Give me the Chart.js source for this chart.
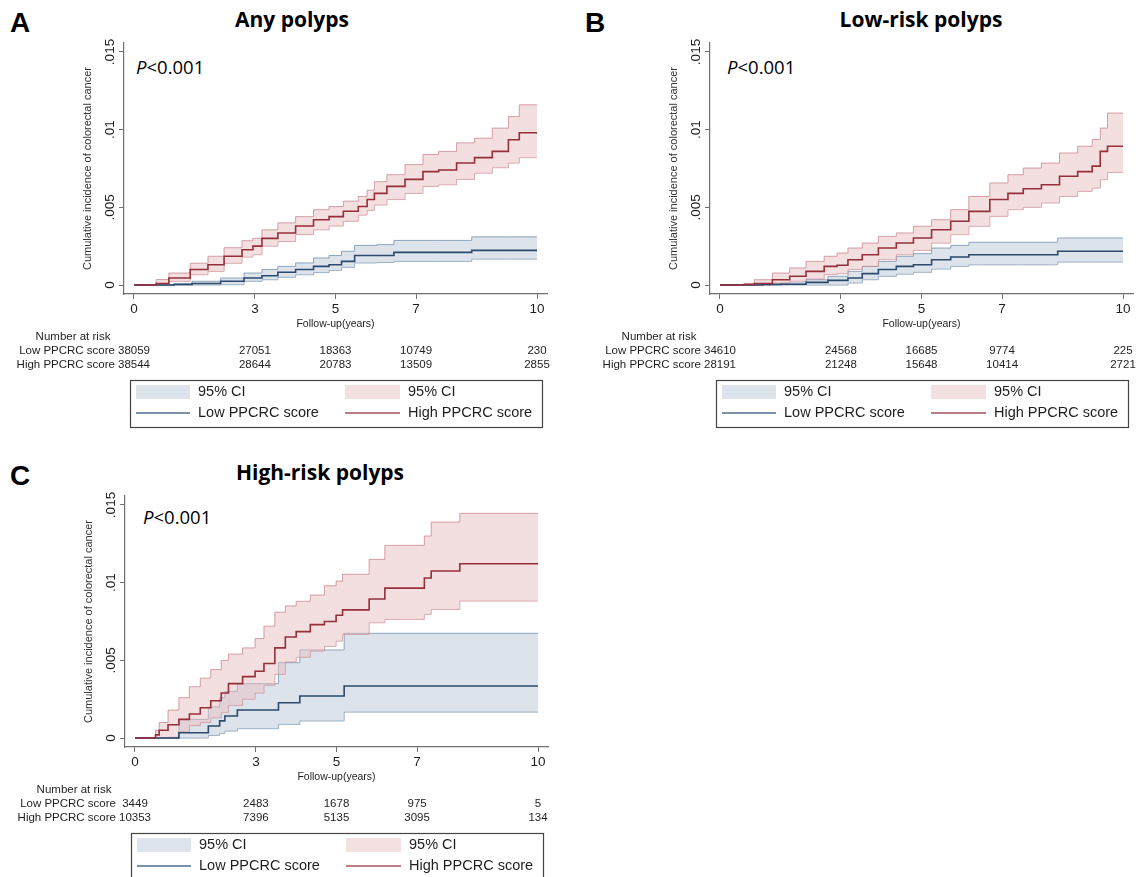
<!DOCTYPE html>
<html>
<head>
<meta charset="utf-8">
<script src="https://cdn.jsdelivr.net/npm/chart.js@4.4.1/dist/chart.umd.min.js"></script>
<style>
  html, body { margin: 0; padding: 0; background: #fff; overflow: hidden; }
  body { width: 1147px; height: 877px; position: relative; }
  canvas { position: absolute; }
  .letter { position: absolute; font: bold 28px "Liberation Sans", Arial, sans-serif; line-height: 1; color: #000; }
  .title { position: absolute; font: bold 21px "Open Sans", sans-serif; line-height: 1; white-space: nowrap; transform: translateX(-50%); color: #000; }
  .pval { position: absolute; font: 18.5px "Open Sans", sans-serif; line-height: 1; white-space: nowrap; color: #000; }
</style>
</head>
<body>
<div class="letter" style="left:10px; top:9px">A</div>
<div class="title" style="left:292px; top:9px">Any polyps</div>
<div class="pval" style="left:136px; top:58px"><i>P</i>&lt;0.001</div>
<canvas id="chartA" width="580" height="440" style="left:0px; top:0px"></canvas>

<div class="letter" style="left:585px; top:9px">B</div>
<div class="title" style="left:921px; top:9px">Low-risk polyps</div>
<div class="pval" style="left:727px; top:58px"><i>P</i>&lt;0.001</div>
<canvas id="chartB" width="580" height="440" style="left:586px; top:0px"></canvas>

<div class="letter" style="left:10px; top:462px">C</div>
<div class="title" style="left:320px; top:462px">High-risk polyps</div>
<div class="pval" style="left:143px; top:508px"><i>P</i>&lt;0.001</div>
<canvas id="chartC" width="580" height="440" style="left:1px; top:453px"></canvas>

<script>
// axis ticks
const xTicks = [0, 3, 5, 7, 10];
const yTicks = [0, 0.005, 0.01, 0.015];

// values below are cumulative incidence x 1000

// A: any polyps
const aLowT   = [0, 0.95, 1.04, 1.84, 2.46, 3.0, 3.35, 3.79, 4.23, 4.68, 5.0, 5.3, 5.65, 6.4, 6.5, 8.33, 8.43, 10];
const aLowEst = [0, 0, 0.03, 0.1, 0.24, 0.45, 0.6, 0.82, 1.0, 1.2, 1.3, 1.52, 1.9, 1.9, 2.1, 2.1, 2.23, 2.23];
const aLowHi  = [0, 0, 0.1, 0.24, 0.45, 0.77, 1.0, 1.2, 1.42, 1.74, 1.9, 2.17, 2.55, 2.6, 2.87, 2.87, 3.1, 3.1];
const aLowLo  = [0, 0, 0, 0, 0.02, 0.24, 0.34, 0.5, 0.66, 0.8, 0.94, 1.14, 1.42, 1.45, 1.52, 1.52, 1.67, 1.67];

const aHighT   = [0, 0.5, 0.6, 1.13, 1.66, 2.01, 2.46, 2.9, 3.0, 3.35, 3.79, 4.23, 4.68, 5.0, 5.39, 5.74, 5.83, 6.1, 6.45, 7.0, 7.34, 7.78, 8.23, 8.67, 9.11, 9.47, 9.65, 10];
const aHighEst = [0, 0, 0.1, 0.45, 1.0, 1.3, 1.85, 2.27, 2.5, 3.0, 3.35, 3.8, 4.2, 4.4, 4.75, 5.05, 5.5, 5.9, 6.35, 6.8, 7.3, 7.4, 7.85, 8.2, 8.6, 9.35, 9.8, 9.8];
const aHighHi  = [0, 0, 0.35, 0.77, 1.4, 1.85, 2.4, 2.85, 3.0, 3.55, 4.0, 4.4, 4.85, 5.05, 5.4, 5.7, 6.1, 6.65, 7.1, 7.75, 8.4, 8.6, 9.15, 9.45, 10.1, 10.85, 11.6, 11.6];
const aHighLo  = [0, 0, 0, 0.24, 0.66, 0.88, 1.4, 1.8, 1.95, 2.5, 2.8, 3.25, 3.55, 3.8, 4.1, 4.5, 4.8, 5.15, 5.5, 5.9, 6.35, 6.45, 6.8, 7.2, 7.55, 7.85, 8.2, 8.2];

const aRiskLow  = [38059, 27051, 18363, 10749, 230];
const aRiskHigh = [38544, 28644, 20783, 13509, 2855];

// B: low-risk polyps
const bLowT   = [0, 1.0, 1.1, 1.91, 2.36, 3.0, 3.35, 3.71, 4.15, 4.6, 5.0, 5.5, 5.95, 6.4, 8.33, 8.43, 10];
const bLowEst = [0, 0, 0.03, 0.05, 0.17, 0.3, 0.45, 0.73, 1.0, 1.2, 1.3, 1.63, 1.8, 1.95, 1.95, 2.17, 2.17];
const bLowHi  = [0, 0, 0.08, 0.13, 0.34, 0.56, 0.88, 1.2, 1.52, 1.85, 2.02, 2.38, 2.55, 2.75, 2.75, 3.03, 3.03];
const bLowLo  = [0, 0, 0, 0, 0, 0, 0.13, 0.34, 0.56, 0.7, 0.82, 1.03, 1.2, 1.3, 1.3, 1.48, 1.48];

const bHighT   = [0, 0.55, 0.65, 1.05, 1.55, 1.91, 2.36, 2.81, 3.0, 3.35, 3.71, 4.15, 4.6, 5.0, 5.5, 5.95, 6.4, 6.99, 7.3, 7.75, 8.2, 8.65, 9.1, 9.37, 9.5, 9.73, 10];
const bHighEst = [0, 0, 0.03, 0.1, 0.34, 0.56, 0.88, 1.2, 1.27, 1.63, 1.95, 2.38, 2.7, 3.03, 3.56, 4.1, 4.74, 5.5, 5.9, 6.2, 6.45, 7.0, 7.3, 7.65, 8.6, 8.93, 8.93];
const bHighHi  = [0, 0, 0.1, 0.34, 0.77, 1.1, 1.52, 1.85, 2.06, 2.38, 2.7, 3.13, 3.35, 3.78, 4.2, 4.85, 5.7, 6.57, 7.1, 7.53, 7.85, 8.5, 8.93, 9.36, 10.1, 11.07, 11.07];
const bHighLo  = [0, 0, 0, 0, 0.13, 0.24, 0.39, 0.67, 0.73, 1.0, 1.2, 1.63, 1.95, 2.23, 2.7, 3.24, 3.78, 4.42, 4.85, 5.0, 5.28, 5.7, 6.03, 6.24, 6.78, 7.25, 7.25];

const bRiskLow  = [34610, 24568, 16685, 9774, 225];
const bRiskHigh = [28191, 21248, 15648, 10414, 2721];

// C: high-risk polyps (values start at each time)
const cLowT   = [0, 1.09, 1.82, 2.10, 2.23, 2.54, 3.56, 4.09, 5.19, 10];
const cLowEst = [0, 0.34, 0.77, 1.1, 1.42, 1.8, 2.27, 2.7, 3.35, 3.35];
const cLowHi  = [0, 1.2, 2.0, 2.6, 3.0, 3.5, 4.85, 5.67, 6.74, 6.74];
const cLowLo  = [0, 0, 0.17, 0.3, 0.45, 0.6, 0.88, 1.1, 1.67, 1.67];

const cHighT   = [0, 0.51, 0.6, 0.82, 1.09, 1.35, 1.62, 1.88, 2.14, 2.32, 2.67, 2.98, 3.2, 3.47, 3.73, 4.0, 4.35, 4.7, 4.99, 5.15, 5.81, 6.2, 7.18, 7.35, 8.06, 10];
const cHighEst = [0, 0.2, 0.5, 0.85, 1.2, 1.55, 1.95, 2.4, 2.9, 3.5, 3.95, 4.3, 4.8, 5.8, 6.5, 6.85, 7.3, 7.5, 7.9, 8.25, 8.95, 9.65, 10.3, 10.75, 11.22, 11.22];
const cHighHi  = [0, 0.5, 1.0, 1.8, 2.6, 3.3, 3.85, 4.4, 5.0, 5.4, 5.8, 6.4, 7.2, 8.1, 8.5, 8.8, 9.2, 9.8, 10.1, 10.54, 11.5, 12.4, 13.0, 13.9, 14.46, 14.46];
const cHighLo  = [0, 0, 0, 0.05, 0.4, 0.8, 1.0, 1.3, 1.63, 2.1, 2.5, 2.9, 3.4, 4.1, 4.9, 5.2, 5.6, 5.9, 6.24, 6.67, 7.42, 7.64, 7.96, 8.28, 8.82, 8.82];

const cRiskLow  = [3449, 2483, 1678, 975, 5];
const cRiskHigh = [10353, 7396, 5135, 3095, 134];

const FONT = '"Liberation Sans", Arial, sans-serif';
const AXIS = '#707070';
const TEXT = '#1e1e1e';
const BLUE_LINE = '#2b4a6e';
const BLUE_EDGE = 'rgba(110,140,170,0.75)';
const BLUE_FILL = 'rgba(187,200,216,0.5)';
const RED_LINE = '#962f3c';
const RED_EDGE = 'rgba(200,130,140,0.75)';
const RED_FILL = 'rgba(231,191,194,0.5)';

function pts(t, v) {
  return t.map((x, i) => ({ x: x, y: v[i] / 1000 }));
}

function fmtY(v) {
  if (v === 0) return '0';
  return String(+v.toFixed(3)).replace(/^0\./, '.');
}

function riskPlugin(riskLow, riskHigh) {
  return {
    id: 'riskTable',
    afterDraw(chart) {
      const { ctx, chartArea, scales } = chart;
      const xs = scales.x;
      const base = chartArea.bottom;
      const x0 = xs.getPixelForValue(0);
      ctx.save();
      ctx.fillStyle = TEXT;
      ctx.textBaseline = 'middle';
      ctx.font = '11.5px ' + FONT;
      ctx.textAlign = 'center';
      ctx.fillText('Number at risk', x0 - 61, base + 43);
      const rows = [['Low PPCRC score', riskLow], ['High PPCRC score', riskHigh]];
      rows.forEach((row, r) => {
        const y = base + 57 + r * 14;
        ctx.textAlign = 'right';
        ctx.fillText(row[0], x0 - 19, y);
        ctx.textAlign = 'center';
        row[1].forEach((n, i) => ctx.fillText(String(n), xs.getPixelForValue(xTicks[i]), y));
      });

      // legend box
      const top = base + 86;
      ctx.strokeStyle = '#444';
      ctx.lineWidth = 1.2;
      ctx.strokeRect(130.5, top + 0.5, 412, 47);
      const r1 = top + 12, r2 = top + 33;
      ctx.fillStyle = 'rgb(221,228,236)';
      ctx.fillRect(136, r1 - 7, 54, 14);
      ctx.fillStyle = 'rgb(243,224,225)';
      ctx.fillRect(345, r1 - 7, 55, 14);
      ctx.lineWidth = 1.3;
      ctx.strokeStyle = '#4f6d8c';
      ctx.beginPath(); ctx.moveTo(136, r2); ctx.lineTo(190, r2); ctx.stroke();
      ctx.strokeStyle = '#a4535e';
      ctx.beginPath(); ctx.moveTo(345, r2); ctx.lineTo(400, r2); ctx.stroke();
      ctx.fillStyle = TEXT;
      ctx.font = '14.5px ' + FONT;
      ctx.textAlign = 'left';
      ctx.fillText('95% CI', 198, r1);
      ctx.fillText('95% CI', 408, r1);
      ctx.fillText('Low PPCRC score', 198, r2);
      ctx.fillText('High PPCRC score', 408, r2);
      ctx.restore();
    }
  };
}

function makeChart(id, low, high, mode, riskLow, riskHigh) {
  const band = (data, edge, fill, order, fillTo) => ({
    data: data, borderColor: edge, borderWidth: 1, backgroundColor: fill,
    fill: fillTo, stepped: mode, pointRadius: 0, order: order
  });
  return new Chart(document.getElementById(id), {
    type: 'line',
    data: {
      datasets: [
        band(pts(low.t, low.hi), BLUE_EDGE, BLUE_FILL, 3, '+1'),
        band(pts(low.t, low.lo), BLUE_EDGE, BLUE_FILL, 3, false),
        band(pts(high.t, high.hi), RED_EDGE, RED_FILL, 2, '+1'),
        band(pts(high.t, high.lo), RED_EDGE, RED_FILL, 2, false),
        { label: 'Low PPCRC score', data: pts(low.t, low.est), borderColor: BLUE_LINE, borderWidth: 1.6,
          fill: false, stepped: mode, pointRadius: 0, order: 1 },
        { label: 'High PPCRC score', data: pts(high.t, high.est), borderColor: RED_LINE, borderWidth: 1.6,
          fill: false, stepped: mode, pointRadius: 0, order: 0 }
      ]
    },
    options: {
      responsive: false,
      animation: false,
      devicePixelRatio: 1,
      layout: { padding: { left: 0, top: 43, right: 33, bottom: 106 } },
      plugins: { legend: { display: false }, tooltip: { enabled: false } },
      scales: {
        x: {
          type: 'linear', min: -0.248, max: 10.248,
          afterBuildTicks: s => { s.ticks = xTicks.map(v => ({ value: v })); },
          afterFit: s => { s.height = 40; },
          ticks: { font: { family: FONT, size: 13.5 }, color: TEXT, padding: 2, maxRotation: 0, autoSkip: false,
                   callback: v => String(v) },
          grid: { drawOnChartArea: false, drawTicks: true, tickLength: 5, color: AXIS },
          border: { display: true, color: AXIS, width: 1.2 },
          title: { display: true, text: 'Follow-up(years)', font: { family: FONT, size: 10.5 }, color: TEXT,
                   padding: { top: 0, bottom: 4 } }
        },
        y: {
          type: 'linear', min: -0.000579, max: 0.015579,
          afterBuildTicks: s => { s.ticks = yTicks.map(v => ({ value: v })); },
          afterFit: s => { s.width = 124; },
          ticks: { font: { family: FONT, size: 13.5 }, color: TEXT, minRotation: 90, maxRotation: 90,
                   crossAlign: 'center', padding: -4, autoSkip: false, callback: fmtY },
          grid: { drawOnChartArea: false, drawTicks: true, tickLength: 5, color: AXIS },
          border: { display: true, color: AXIS, width: 1.2 },
          title: { display: true, text: 'Cumulative incidence of colorectal cancer', font: { family: FONT, size: 11 },
                   color: '#333', padding: { top: 81, bottom: 0 } }
        }
      }
    },
    plugins: [riskPlugin(riskLow, riskHigh)]
  });
}

makeChart('chartA',
  { t: aLowT, est: aLowEst, hi: aLowHi, lo: aLowLo },
  { t: aHighT, est: aHighEst, hi: aHighHi, lo: aHighLo },
  'middle', aRiskLow, aRiskHigh);
makeChart('chartB',
  { t: bLowT, est: bLowEst, hi: bLowHi, lo: bLowLo },
  { t: bHighT, est: bHighEst, hi: bHighHi, lo: bHighLo },
  'middle', bRiskLow, bRiskHigh);
makeChart('chartC',
  { t: cLowT, est: cLowEst, hi: cLowHi, lo: cLowLo },
  { t: cHighT, est: cHighEst, hi: cHighHi, lo: cHighLo },
  'before', cRiskLow, cRiskHigh);
</script>
</body>
</html>
